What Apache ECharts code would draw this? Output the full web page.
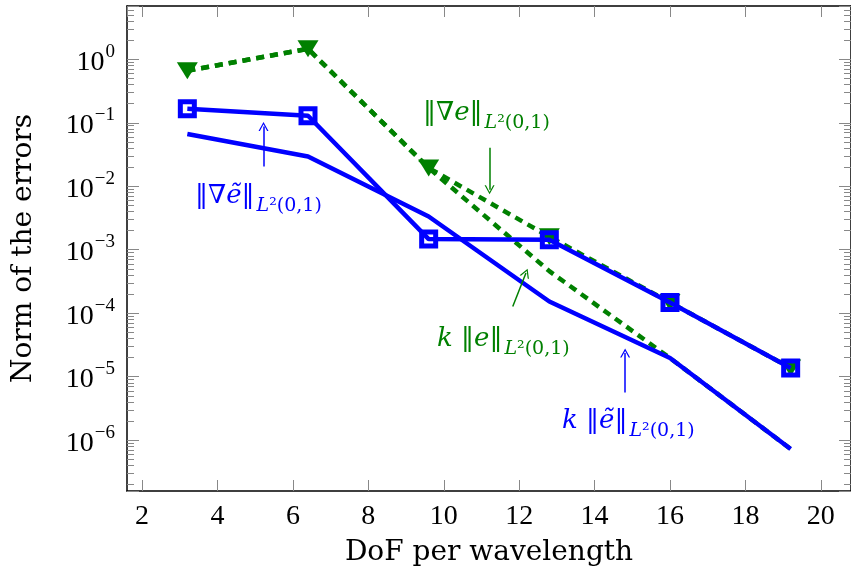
<!DOCTYPE html>
<html lang="en">
<head>
    <meta charset="UTF-8">
    <title>Norm of the errors</title>
    <style>
        html, body { margin: 0; padding: 0; background: #fff; }
    </style>
</head>
<body>
<div id='main' style="height: 578px;width: 851px"></div>
<script src="https://cdn.jsdelivr.net/npm/echarts@6.0.0/dist/echarts.min.js"></script>
<script>
    // DoF per wavelength
    var dof = [3.2, 6.4, 9.6, 12.8, 16, 19.2];
    // errors
    var gradE = [0.66, 1.46, 0.0194, 1.6e-3, 1.48e-4, 1.37e-5];
    var kE = [0.66, 1.46, 0.0194, 4.6e-4, 1.97e-5, 7.27e-7];
    var kETilde = [0.0664, 0.0295, 3.34e-3, 1.53e-4, 1.97e-5, 7.27e-7];
    var gradETilde = [0.166, 0.129, 1.47e-3, 1.44e-3, 1.48e-4, 1.37e-5];
    // y tick exponents shown as labels
    var yExponents = [-6, -5, -4, -3, -2, -1, 0];
    // minor ticks inside each decade
    var minorFactors = [2, 3, 4, 5, 6, 7, 8, 9];
    // annotation arrows [x1, y1, x2, y2] (tail -> head)
    var arrowGradETilde = [5.22, 0.0205, 5.22, 0.0875];
    var arrowGradE = [11.215, 0.0404, 11.215, 0.00881];
    var arrowKE = [11.83, 1.28e-4, 12.18, 4.3e-4];
    var arrowKETilde = [14.81, 5.66e-6, 14.81, 2.36e-5];

    var BLUE = '#0000ff';
    var GREEN = '#008000';
    var NUMFONT = "'Liberation Serif', 'DejaVu Serif', serif";
    var FONT = "'DejaVu Serif', 'Liberation Serif', serif";

    function pairs(xs, ys) {
        return xs.map(function (x, i) { return [x, ys[i]]; });
    }

    function arrowLine(a) {
        return [{coord: [a[0], a[1]]}, {coord: [a[2], a[3]]}];
    }

    var chevron = 'path://M0,10 L5,0 L10,10 L8.6,10 L5,2.6 L1.4,10 Z';

    function yLabel(v) {
        var lg = Math.log10(v);
        var e = Math.round(lg);
        if (Math.abs(lg - e) > 1e-6 || yExponents.indexOf(e) < 0) return '';
        var s = String(e).replace('-', '\u2212');
        return '{b|10}{e|' + s + '}';
    }

    var myChart = echarts.init(document.getElementById('main'));

    var tickStyle = {color: '#888', width: 1};
    var xMin = 1.6, xMax = 20.8;
    var yMin = Math.pow(10, -6.8), yMax = Math.pow(10, 0.839);

    function mathRich(color) {
        var base = {fontFamily: FONT, fill: color, color: color};
        return {
            n: Object.assign({fontSize: 26}, base),
            i: Object.assign({fontSize: 26, fontStyle: 'italic'}, base),
            si: Object.assign({fontSize: 19, fontStyle: 'italic', verticalAlign: 'bottom', padding: [20, 0, 0, 2]}, base),
            sn: Object.assign({fontSize: 19, verticalAlign: 'bottom', padding: [20, 0, 0, 0]}, base)
        };
    }

    function mathText(str, x, y, color) {
        return {
            type: 'text',
            x: x,
            y: y,
            silent: true,
            style: {
                text: str,
                fill: color,
                font: '26px ' + FONT,
                verticalAlign: 'middle',
                align: 'left',
                rich: mathRich(color)
            }
        };
    }

    // hidden log axes that only draw the 2..9 ticks of each decade
    function minorAxes(position) {
        return minorFactors.map(function (k) {
            return {
                type: 'log',
                logBase: 10,
                position: position,
                min: yMin / k,
                max: yMax / k,
                axisLine: {show: false},
                axisTick: {inside: true, length: 7, lineStyle: tickStyle},
                axisLabel: {show: false},
                splitLine: {show: false}
            };
        });
    }

    var yAxes = [{
        type: 'log',
        logBase: 10,
        min: yMin,
        max: yMax,
        name: 'Norm of the errors',
        nameLocation: 'middle',
        nameGap: 89,
        nameTextStyle: {fontFamily: FONT, fontSize: 28, color: '#000'},
        axisLine: {lineStyle: {color: '#000', width: 1.5}},
        axisTick: {inside: true, length: 12, lineStyle: tickStyle},
        axisLabel: {
            margin: 12,
            formatter: yLabel,
            rich: {
                b: {fontFamily: NUMFONT, fontSize: 28, color: '#000', padding: [6, 0, 0, 0]},
                e: {fontFamily: NUMFONT, fontSize: 19, color: '#000', verticalAlign: 'top', padding: [0, 0, 12, 1]}
            }
        },
        splitLine: {show: false}
    }, {
        type: 'log',
        logBase: 10,
        position: 'right',
        min: yMin,
        max: yMax,
        axisLine: {lineStyle: {color: '#000', width: 1.5}},
        axisTick: {inside: true, length: 12, lineStyle: tickStyle},
        axisLabel: {show: false},
        splitLine: {show: false}
    }].concat(minorAxes('left'), minorAxes('right'));

    var option = {
        animation: false,
        backgroundColor: '#fff',
        grid: {left: 127, top: 6, width: 729, height: 485},
        xAxis: [{
            type: 'value',
            min: xMin,
            max: xMax,
            splitNumber: 10,
            name: 'DoF per wavelength',
            nameLocation: 'middle',
            nameGap: 48,
            nameTextStyle: {fontFamily: FONT, fontSize: 28, color: '#000'},
            axisLine: {lineStyle: {color: '#000', width: 1.5}},
            axisTick: {inside: true, length: 11, lineStyle: tickStyle},
            axisLabel: {
                fontFamily: NUMFONT, fontSize: 28, color: '#000', margin: 12,
                showMinLabel: false, showMaxLabel: false
            },
            splitLine: {show: false}
        }, {
            type: 'value',
            position: 'top',
            min: xMin,
            max: xMax,
            splitNumber: 10,
            axisLine: {lineStyle: {color: '#000', width: 1.5}},
            axisTick: {inside: true, length: 11, lineStyle: tickStyle},
            axisLabel: {show: false},
            splitLine: {show: false}
        }],
        yAxis: yAxes,
        series: [{
            name: 'grad e',
            type: 'line',
            data: pairs(dof, gradE),
            symbol: 'triangle',
            symbolRotate: 180,
            symbolSize: [21, 17],
            itemStyle: {color: GREEN, borderWidth: 0},
            lineStyle: {color: GREEN, width: 4.5, type: [8, 6]},
            z: 2,
            markLine: {
                silent: true,
                symbol: ['none', chevron],
                symbolSize: [10, 9],
                label: {show: false},
                lineStyle: {color: GREEN, width: 1.5, type: 'solid'},
                data: [arrowLine(arrowGradE), arrowLine(arrowKE)]
            }
        }, {
            name: 'k e',
            type: 'line',
            data: pairs(dof, kE),
            symbol: 'none',
            lineStyle: {color: GREEN, width: 4.5, type: [8, 6]},
            z: 2
        }, {
            name: 'k e tilde',
            type: 'line',
            data: pairs(dof, kETilde),
            symbol: 'none',
            lineStyle: {color: BLUE, width: 4.5},
            z: 3,
            markLine: {
                silent: true,
                symbol: ['none', chevron],
                symbolSize: [10, 9],
                label: {show: false},
                lineStyle: {color: BLUE, width: 1.5, type: 'solid'},
                data: [arrowLine(arrowGradETilde), arrowLine(arrowKETilde)]
            }
        }, {
            name: 'grad e tilde',
            type: 'line',
            data: pairs(dof, gradETilde),
            symbol: 'rect',
            symbolSize: 14,
            itemStyle: {color: 'rgba(0,0,0,0)', borderColor: BLUE, borderWidth: 5},
            lineStyle: {color: BLUE, width: 4.5},
            z: 4
        }],
        graphic: [
            mathText('{n|\u2016\u2207}{i|\u1EBD}{n|\u2016}{si|L}{sn|\u00B2(0,1)}', 195, 196, BLUE),
            mathText('{n|\u2016\u2207}{i|e}{n|\u2016}{si|L}{sn|\u00B2(0,1)}', 423, 113, GREEN),
            mathText('{i|k}{n| \u2016}{i|e}{n|\u2016}{si|L}{sn|\u00B2(0,1)}', 437, 339, GREEN),
            mathText('{i|k}{n| \u2016}{i|\u1EBD}{n|\u2016}{si|L}{sn|\u00B2(0,1)}', 562, 421, BLUE)
        ]
    };
    myChart.setOption(option);
</script>
</body>
</html>
